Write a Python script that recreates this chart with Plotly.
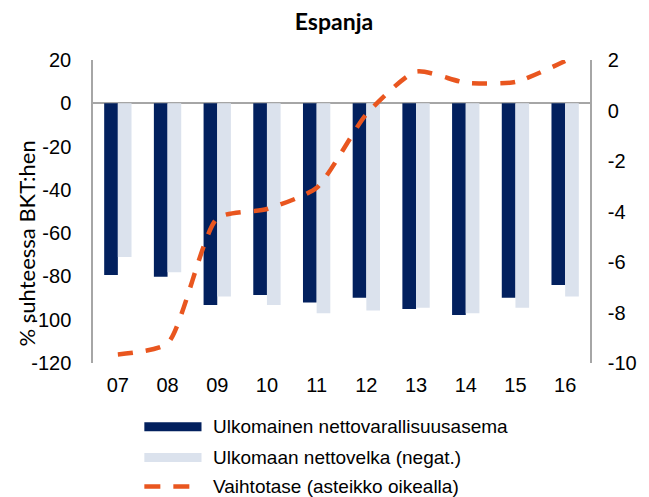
import plotly.graph_objects as go

YEARS = ["07", "08", "09", "10", "11", "12", "13", "14", "15", "16"]
NET_POSITION = [-79.3, -80.1, -93.2, -88.6, -92.0, -89.8, -95.1, -97.8, -89.8, -84.0]
NET_DEBT_NEG = [-71.0, -78.1, -89.3, -93.2, -97.0, -95.8, -94.5, -97.0, -94.5, -89.3]
CURRENT_ACCOUNT = [-9.66, -9.22, -4.27, -3.90, -3.06, -0.15, 1.54, 1.10, 1.13, 1.96]
SERIES_NAMES = ["Ulkomainen nettovarallisuusasema", "Ulkomaan nettovelka (negat.)",
                "Vaihtotase (asteikko oikealla)"]
LEFT_TICKS = [20, 0, -20, -40, -60, -80, -100, -120]
LEFT_TICK_TEXT = ["20", "0", "-20", "-40", "-60", "-80", "-100", "-120"]
RIGHT_TICKS = [2, 0, -2, -4, -6, -8, -10]
RIGHT_TICK_TEXT = ["2", "0", "-2", "-4", "-6", "-8", "-10"]
TITLE = "Espanja"
Y_TITLE = "% suhteessa BKT:hen"

NAVY = "#02205E"
LIGHT = "#DBE2ED"
ORANGE = "#E9561F"
GREY = "#A6A6A6"
ARIAL = "Liberation Sans, Arial, sans-serif"
CAL = "Lato, Carlito, Calibri, sans-serif"

fig = go.Figure()
fig.add_trace(go.Bar(x=YEARS, y=NET_POSITION, name=SERIES_NAMES[0],
                     marker=dict(color=NAVY, line=dict(width=0)), showlegend=False))
fig.add_trace(go.Bar(x=YEARS, y=NET_DEBT_NEG, name=SERIES_NAMES[1],
                     marker=dict(color=LIGHT, line=dict(width=0)), showlegend=False))
fig.add_trace(go.Scatter(x=YEARS, y=CURRENT_ACCOUNT, name=SERIES_NAMES[2], yaxis="y2",
                         mode="lines", line=dict(color=ORANGE, width=4.5, dash="15px,13px",
                                                 shape="spline", smoothing=0.6),
                         showlegend=False))

# legend drawn manually (wide symbols as in the original)
rows = [-0.210, -0.312, -0.408]
x0, x1 = (146 - 93) / 513, (205 - 93) / 513
h = 4.5 / 303
fig.add_shape(type="rect", xref="paper", yref="paper", x0=x0, x1=x1,
              y0=rows[0] - h, y1=rows[0] + h, fillcolor=NAVY, line=dict(width=0))
fig.add_shape(type="rect", xref="paper", yref="paper", x0=x0, x1=x1,
              y0=rows[1] - h, y1=rows[1] + h, fillcolor=LIGHT, line=dict(width=0))
fig.add_shape(type="line", xref="paper", yref="paper", x0=x0, x1=x1,
              y0=rows[2], y1=rows[2], line=dict(color=ORANGE, width=4.5, dash="16px,13px"))
for name, yy in zip(SERIES_NAMES, rows):
    fig.add_annotation(text=name, xref="paper", yref="paper", x=(215 - 93) / 513, y=yy,
                       xanchor="left", yanchor="middle", showarrow=False,
                       font=dict(family=ARIAL, size=19, color="#000000"))

fig.add_annotation(text=Y_TITLE, xref="paper", yref="paper", x=(24 - 93) / 513,
                   y=0.395, textangle=-90, xanchor="center", yanchor="middle",
                   showarrow=False, font=dict(family=CAL, size=22, color="#000000"))

fig.update_layout(
    width=649, height=497,
    margin=dict(l=93, r=43, t=60, b=134),
    paper_bgcolor="white", plot_bgcolor="white",
    barmode="group", bargap=0.45, bargroupgap=0,
    title=dict(text="<b>" + TITLE + "</b>", x=334 / 649, xanchor="center",
               y=1 - 22 / 497, yanchor="middle", xref="container", yref="container",
               font=dict(family=CAL, size=23, color="#000000")),
    xaxis=dict(type="category", showline=False, showgrid=False, ticks="",
               tickfont=dict(family=ARIAL, size=20, color="#000000"),
               ticklabelstandoff=8),
    yaxis=dict(range=[-120, 20], tickvals=LEFT_TICKS, ticktext=LEFT_TICK_TEXT,
               showgrid=False, showline=True, linecolor=GREY, linewidth=1.5, ticks="",
               zeroline=True, zerolinecolor=GREY, zerolinewidth=1.5,
               tickfont=dict(family=ARIAL, size=20, color="#000000"),
               ticklabelstandoff=16),
    yaxis2=dict(range=[-10, 2], tickvals=RIGHT_TICKS, ticktext=RIGHT_TICK_TEXT,
                overlaying="y", side="right",
                showgrid=False, zeroline=False, showline=True, linecolor=GREY,
                linewidth=1.5, ticks="",
                tickfont=dict(family=ARIAL, size=20, color="#000000"),
                ticklabelstandoff=12),
    showlegend=False,
)

fig.write_html("out.html", config={"displayModeBar": False},
               post_script="document.body.style.margin='0';document.body.style.padding='0';")
